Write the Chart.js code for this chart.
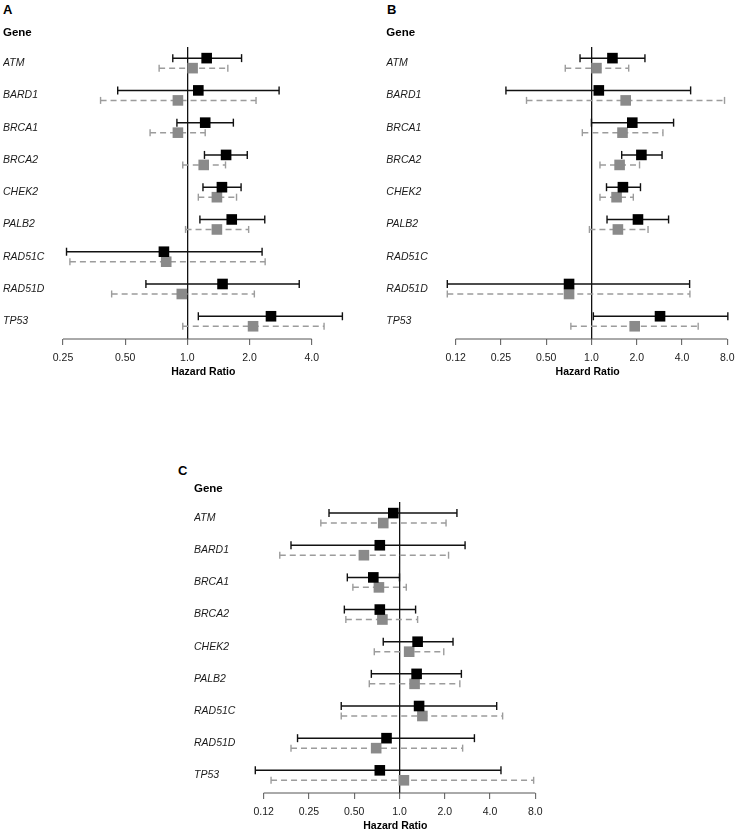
<!DOCTYPE html>
<html>
<head>
<meta charset="utf-8">
<script src="https://cdn.jsdelivr.net/npm/chart.js@4.4.0/dist/chart.umd.min.js"></script>
<style>
  html, body { margin: 0; padding: 0; background: #fff; }
  body { width: 736px; height: 830px; position: relative; overflow: hidden; font-family: "Liberation Sans", Arial, sans-serif; }
  canvas { position: absolute; }
  .letter { position: absolute; font-weight: bold; font-size: 13px; line-height: 13px; color: #000; }
</style>
</head>
<body>
<div class="letter" style="left:3px;top:3px">A</div>
<div class="letter" style="left:387px;top:3px">B</div>
<div class="letter" style="left:178px;top:464px">C</div>
<canvas id="chartA" width="368" height="378" style="left:0;top:0"></canvas>
<canvas id="chartB" width="368" height="378" style="left:368px;top:0"></canvas>
<canvas id="chartC" width="380" height="372" style="left:180px;top:460px"></canvas>
<script>
// genes, top to bottom
const genes = ["ATM", "BARD1", "BRCA1", "BRCA2", "CHEK2", "PALB2", "RAD51C", "RAD51D", "TP53"];

// panel A - black (solid) and grey (dashed) estimates
const hrA1 = [1.24, 1.13, 1.22, 1.54, 1.47, 1.64, 0.77, 1.48, 2.54];
const loA1 = [0.85, 0.46, 0.89, 1.21, 1.19, 1.15, 0.26, 0.63, 1.13];
const hiA1 = [1.83, 2.78, 1.67, 1.95, 1.82, 2.37, 2.30, 3.48, 5.63];
const hrA2 = [1.06, 0.90, 0.90, 1.20, 1.39, 1.39, 0.79, 0.94, 2.08];
const loA2 = [0.73, 0.38, 0.66, 0.95, 1.13, 0.98, 0.27, 0.43, 0.95];
const hiA2 = [1.57, 2.15, 1.22, 1.53, 1.73, 1.98, 2.38, 2.11, 4.59];

// panel B (no RAD51C estimate)
const hrB1 = [1.38, 1.12, 1.87, 2.15, 1.62, 2.04, null, 0.71, 2.86];
const loB1 = [0.84, 0.27, 1.00, 1.59, 1.26, 1.27, null, 0.11, 1.03];
const hiB1 = [2.27, 4.57, 3.52, 2.95, 2.12, 3.26, null, 4.50, 8.08];
const hrB2 = [1.08, 1.69, 1.61, 1.54, 1.47, 1.50, null, 0.71, 1.94];
const loB2 = [0.67, 0.37, 0.87, 1.14, 1.14, 0.97, null, 0.11, 0.73];
const hiB2 = [1.77, 7.68, 2.99, 2.09, 1.90, 2.38, null, 4.52, 5.13];

// panel C
const hrC1 = [0.91, 0.74, 0.67, 0.74, 1.32, 1.30, 1.35, 0.82, 0.74];
const loC1 = [0.34, 0.19, 0.45, 0.43, 0.78, 0.65, 0.41, 0.21, 0.11];
const hiC1 = [2.41, 2.73, 1.00, 1.28, 2.27, 2.58, 4.43, 3.15, 4.73];
const hrC2 = [0.78, 0.58, 0.73, 0.77, 1.16, 1.26, 1.42, 0.70, 1.07];
const loC2 = [0.30, 0.16, 0.49, 0.44, 0.68, 0.63, 0.41, 0.19, 0.14];
const hiC2 = [2.04, 2.12, 1.11, 1.32, 1.97, 2.52, 4.85, 2.63, 7.80];

// x axis ticks
const ticksA = [0.25, 0.5, 1, 2, 4];
const tickLabelsA = ["0.25", "0.50", "1.0", "2.0", "4.0"];
const ticksBC = [0.125, 0.25, 0.5, 1, 2, 4, 8];
const tickLabelsBC = ["0.12", "0.25", "0.50", "1.0", "2.0", "4.0", "8.0"];

const FONT = "'Liberation Sans', Arial, sans-serif";
const blackStyle = { shift: -0.155, line: "#111", box: "#000", dash: [], cap: 4 };
const greyStyle = { shift: 0.155, line: "#9c9c9c", box: "#8a8a8a", dash: [6, 4], cap: 3.5 };

// one dataset per interval, plus one for the squares
function forestSets(hr, lo, hi, style) {
    const sets = [];
    genes.forEach((g, i) => {
        if (hr[i] == null) return;
        const y = i + style.shift;
        sets.push({
            data: [{ x: lo[i], y: y }, { x: hi[i], y: y }],
            showLine: true,
            borderColor: style.line,
            borderWidth: 1.5,
            borderDash: style.dash,
            pointStyle: "line",
            rotation: 90,
            pointRadius: style.cap,
            pointBorderColor: style.line,
            pointBorderWidth: 1.4,
            order: 2,
            clip: false,
        });
    });
    const pts = [];
    genes.forEach((g, i) => {
        if (hr[i] != null) pts.push({ x: hr[i], y: i + style.shift });
    });
    sets.push({
        data: pts,
        pointStyle: "rect",
        pointRadius: 7.5,
        pointBackgroundColor: style.box,
        pointBorderWidth: 0,
        order: 1,
        clip: false,
    });
    return sets;
}

// axis line only between first and last tick
const axisLine = {
    id: "axisLine",
    beforeDatasetsDraw(chart) {
        const sx = chart.scales.x;
        const ctx = chart.ctx;
        const y = chart.chartArea.bottom;
        ctx.save();
        ctx.strokeStyle = "#555";
        ctx.lineWidth = 1;
        ctx.beginPath();
        ctx.moveTo(sx.getPixelForValue(sx.ticks[0].value), y);
        ctx.lineTo(sx.getPixelForValue(sx.ticks[sx.ticks.length - 1].value), y);
        ctx.stroke();
        ctx.restore();
    },
};

function makePanel(id, p) {
    new Chart(document.getElementById(id), {
        type: "scatter",
        data: {
            datasets: forestSets(p.hr1, p.lo1, p.hi1, blackStyle).concat(forestSets(p.hr2, p.lo2, p.hi2, greyStyle)),
        },
        options: {
            responsive: false,
            animation: false,
            events: [],
            layout: { padding: p.padding },
            plugins: {
                legend: { display: false },
                tooltip: { enabled: false },
                title: {
                    display: true,
                    text: "Gene",
                    align: "start",
                    color: "#000",
                    font: { family: FONT, size: 11.5, weight: "bold" },
                    padding: p.titlePad,
                },
            },
            scales: {
                x: {
                    type: "logarithmic",
                    min: p.min,
                    max: p.max,
                    afterBuildTicks: (s) => { s.ticks = p.ticks.map((v) => ({ value: v })); },
                    afterFit: (s) => {
                        s.height = 39;
                        s.paddingLeft = 0;
                        s.paddingRight = 0;
                    },
                    border: { display: false },
                    grid: {
                        drawOnChartArea: true,
                        color: (c) => (c.tick && c.tick.value === 1 ? "#111" : "rgba(0,0,0,0)"),
                        lineWidth: 1.3,
                        tickColor: "#555",
                        tickWidth: 1,
                        tickLength: 6,
                    },
                    ticks: {
                        autoSkip: false,
                        maxRotation: 0,
                        padding: 7,
                        color: "#1a1a1a",
                        font: { family: FONT, size: 10.5 },
                        callback: (v, i) => p.tickLabels[i],
                    },
                    title: {
                        display: true,
                        text: "Hazard Ratio",
                        color: "#000",
                        padding: 0,
                        font: { family: FONT, size: 10.5, weight: "bold" },
                    },
                },
                y: {
                    type: "linear",
                    reverse: true,
                    min: -0.5,
                    max: 8.55,
                    afterBuildTicks: (s) => { s.ticks = genes.map((g, i) => ({ value: i })); },
                    afterFit: (s) => { s.width = p.yWidth; },
                    grid: { display: false },
                    border: { display: false },
                    ticks: {
                        autoSkip: false,
                        crossAlign: "far",
                        padding: 0,
                        color: "#1a1a1a",
                        font: { family: FONT, size: 10.5, style: "italic" },
                        callback: (v) => genes[v],
                    },
                },
            },
        },
        plugins: [axisLine],
    });
}

makePanel("chartA", {
    hr1: hrA1, lo1: loA1, hi1: hiA1, hr2: hrA2, lo2: loA2, hi2: hiA2,
    ticks: ticksA, tickLabels: tickLabelsA, min: 0.25, max: 5.7,
    padding: { left: 3, right: 24.5, top: 0, bottom: 0 },
    titlePad: { top: 26.4, bottom: 6.8 },
    yWidth: 60,
});

makePanel("chartB", {
    hr1: hrB1, lo1: loB1, hi1: hiB1, hr2: hrB2, lo2: loB2, hi2: hiB2,
    ticks: ticksBC, tickLabels: tickLabelsBC, min: 0.11, max: 8.1,
    padding: { left: 18.3, right: 8, top: 0, bottom: 0 },
    titlePad: { top: 26.4, bottom: 6.8 },
    yWidth: 61,
});

makePanel("chartC", {
    hr1: hrC1, lo1: loC1, hi1: hiC1, hr2: hrC2, lo2: loC2, hi2: hiC2,
    ticks: ticksBC, tickLabels: tickLabelsBC, min: 0.11, max: 8.0,
    padding: { left: 14, right: 24.7, top: 0, bottom: 0 },
    titlePad: { top: 22.1, bottom: 6.1 },
    yWidth: 61.3,
});
</script>
</body>
</html>
